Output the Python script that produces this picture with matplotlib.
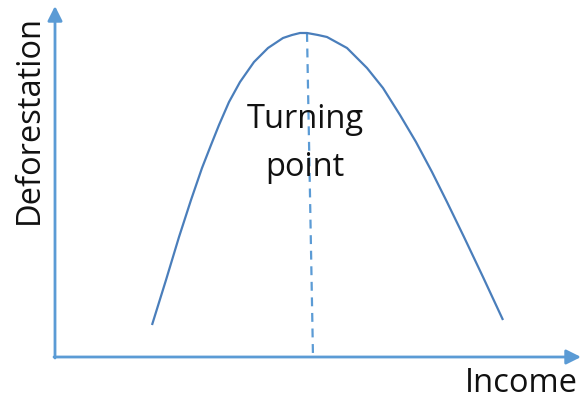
import matplotlib
matplotlib.use('Agg')
from matplotlib import pyplot as plt

# curve (pixel coords, y down)
income = [152, 166, 179, 191, 202, 211, 219, 229, 240, 254, 268, 283,
          292, 300, 307, 318, 327, 347, 367, 383, 400, 416, 432, 447,
          464, 483, 503]
deforest = [325, 280, 237, 200, 168, 145, 125, 102, 82, 62, 48, 38,
            35, 33, 33, 35, 37, 48, 68, 88, 115, 142, 172, 202,
            237, 277, 320]

turn_x = [307, 313]
turn_y = [33, 357]

axis_col = '#5B9BD5'
curve_col = '#4A7EBB'

fig = plt.figure(figsize=(5.81, 3.98), dpi=100)
ax = fig.add_axes([0, 0, 1, 1])
ax.set_xlim(0, 581)
ax.set_ylim(398, 0)
ax.axis('off')

# axes with arrows
ax.annotate('', xy=(55, 6), xytext=(55, 358),
            arrowprops=dict(arrowstyle='-|>', color=axis_col, lw=2,
                            mutation_scale=22, shrinkA=0, shrinkB=0))
ax.annotate('', xy=(581, 357), xytext=(54, 357),
            arrowprops=dict(arrowstyle='-|>', color=axis_col, lw=2,
                            mutation_scale=22, shrinkA=0, shrinkB=0))

ax.plot(turn_x, turn_y, color=axis_col, lw=1.6, dashes=(4, 3))
ax.plot(income, deforest, color=curve_col, lw=1.6, solid_capstyle='butt',
        solid_joinstyle='round')

font = 'Open Sans'
fs = 23.5
ax.text(305, 120, 'Turning', ha='center', va='center', fontsize=fs, family=font, color='#111111')
ax.text(305, 168, 'point', ha='center', va='center', fontsize=fs, family=font, color='#111111')
ax.text(29, 119, 'Deforestation', ha='center', va='center', rotation=90, fontsize=fs, family=font, color='#111111')
ax.text(578, 383, 'Income', ha='right', va='center', fontsize=fs, family=font, color='#111111')

fig.savefig('out.png', dpi=100)
